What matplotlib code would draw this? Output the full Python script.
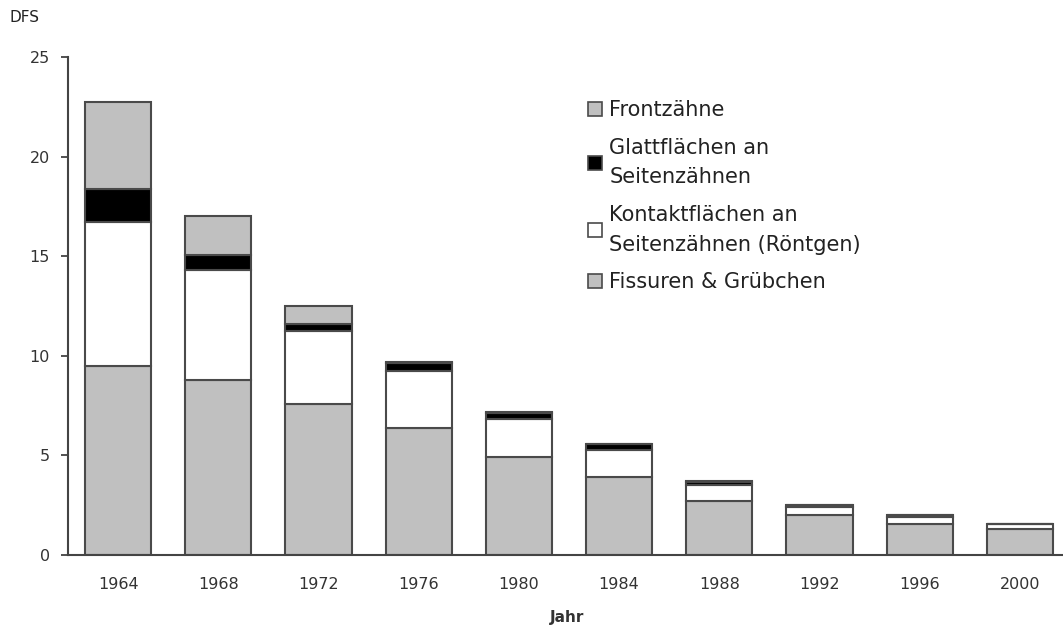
import matplotlib.pyplot as plt
from matplotlib.patches import Patch
import numpy as np

# DFS per year, split by tooth surface
years = ["1964", "1968", "1972", "1976", "1980", "1984", "1988", "1992", "1996", "2000"]
fissuren = [9.5, 8.8, 7.6, 6.4, 4.9, 3.9, 2.7, 2.0, 1.55, 1.3]
kontakt = [7.2, 5.5, 3.65, 2.85, 1.95, 1.35, 0.8, 0.4, 0.35, 0.25]
glatt = [1.7, 0.75, 0.35, 0.4, 0.3, 0.3, 0.15, 0.1, 0.1, 0.0]
front = [4.35, 1.95, 0.9, 0.05, 0.05, 0.05, 0.05, 0.0, 0.0, 0.0]

labels = ["Frontzähne", "Glattflächen an\nSeitenzähnen",
          "Kontaktflächen an\nSeitenzähnen (Röntgen)", "Fissuren & Grübchen"]
colors = ["#c0c0c0", "#000000", "#ffffff", "#c0c0c0"]
edge = "#4a4a4a"

fig = plt.figure(figsize=(10.63, 6.28), dpi=100)
ax = fig.add_axes([0.064, 0.1162, 0.936, 0.7928])

x = np.arange(len(years))
width = 0.66
bottom = np.zeros(len(years))
for vals, col in zip([fissuren, kontakt, glatt, front], colors[::-1]):
    vals = np.array(vals)
    ax.bar(x, vals, width, bottom=bottom, color=col, edgecolor=edge, linewidth=1.5)
    bottom += vals

ax.set_xlim(-0.5, 9.43)
ax.set_ylim(0, 25)
ax.set_yticks([0, 5, 10, 15, 20, 25])
ax.set_xticks(x)
ax.set_xticklabels(years)
ax.tick_params(axis="x", length=0, pad=16, labelsize=11.5, labelcolor="#333333")
ax.tick_params(axis="y", length=5, width=1.2, color="#333333", pad=8,
               labelsize=11.5, labelcolor="#333333", direction="out")
for s in ["top", "right"]:
    ax.spines[s].set_visible(False)
for s in ["left", "bottom"]:
    ax.spines[s].set_color("#444444")
    ax.spines[s].set_linewidth(1.5)

fig.text(0.009, 0.972, "DFS", fontsize=11, color="#222222", ha="left", va="center")
fig.text(0.533, 0.016, "Jahr", fontsize=11, fontweight="bold", color="#333333",
         ha="center", va="center")

handles = [Patch(facecolor=c, edgecolor=edge, linewidth=1.2) for c in colors]
leg = ax.legend(handles, labels, loc="upper left", bbox_to_anchor=(0.5126, 0.935),
                frameon=False, fontsize=15, handlelength=0.65, handleheight=0.65,
                handletextpad=0.35, labelspacing=0.85, borderpad=0,
                labelcolor="#222222")
for t in leg.get_texts():
    t.set_linespacing(1.6)

fig.savefig("out.png", dpi=100)
